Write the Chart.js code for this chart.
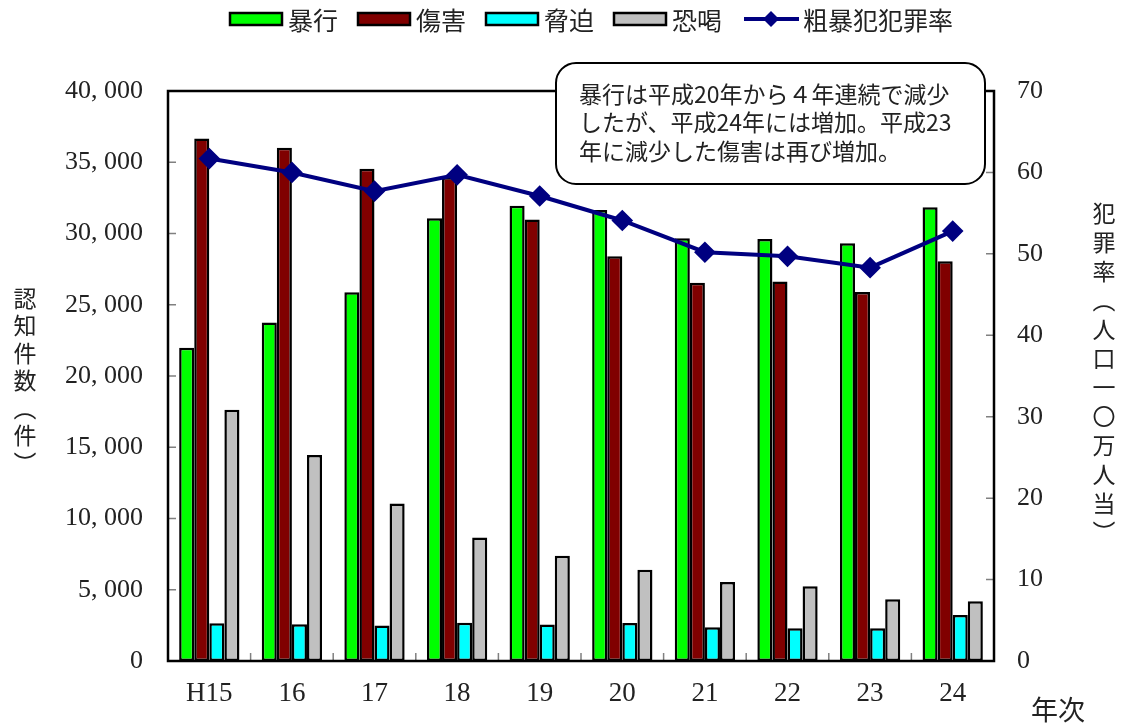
<!DOCTYPE html>
<html>
<head>
<meta charset="utf-8">
<script src="https://cdn.jsdelivr.net/npm/chart.js@4"></script>
<style>
  html, body { margin: 0; background: #fff; }
</style>
</head>
<body>
<canvas id="chart" width="1127" height="724"></canvas>
<script>
// data
const years = ['H15', '16', '17', '18', '19', '20', '21', '22', '23', '24'];
const assault = [21990, 23750, 25870, 31070, 31950, 31650, 29660, 29610, 29310, 31840];
const injury = [36660, 36020, 34540, 33950, 30990, 28400, 26550, 26640, 25900, 28050];
const intimidation = [2650, 2580, 2500, 2680, 2570, 2670, 2360, 2290, 2290, 3230];
const extortion = [17630, 14460, 11050, 8670, 7390, 6410, 5540, 5240, 4330, 4190];
const crimeRate = [61.7, 60.0, 57.7, 59.7, 57.1, 54.1, 50.2, 49.7, 48.3, 52.8];

const countTicks = [0, 5000, 10000, 15000, 20000, 25000, 30000, 35000, 40000];
const rateTicks = [0, 10, 20, 30, 40, 50, 60, 70];

const legendItems = [
    { label: '暴行', color: '#00ff00', type: 'box' },
    { label: '傷害', color: '#800000', type: 'box' },
    { label: '脅迫', color: '#00ffff', type: 'box' },
    { label: '恐喝', color: '#c0c0c0', type: 'box' },
    { label: '粗暴犯犯罪率', color: '#000080', type: 'line' }
];
const leftTitle = ['認', '知', '件', '数', '︵', '件', '︶'];
const rightTitle = ['犯', '罪', '率', '︵', '人', '口', '一', '〇', '万', '人', '当', '︶'];
const noteLines = [
    '暴行は平成20年から４年連続で減少',
    'したが、平成24年には増加。平成23',
    '年に減少した傷害は再び増加。'
];

const jp = "'Noto Sans CJK JP', sans-serif";
const serif = "'Liberation Serif', 'DejaVu Serif', serif";

function fmt(v) {
    return v.toLocaleString('en-US').replace(',', ', ');
}

function bar(label, data, color) {
    return {
        type: 'bar',
        label: label,
        data: data,
        backgroundColor: color,
        borderColor: '#000',
        borderWidth: 2.5,
        borderSkipped: false,
        yAxisID: 'y',
        order: 2
    };
}

const extras = {
    id: 'extras',
    afterDatasetsDraw(chart) {
        const ctx = chart.ctx;
        const a = chart.chartArea;
        const x = chart.scales.x, y = chart.scales.y, y2 = chart.scales.y2;
        ctx.save();
        ctx.strokeStyle = '#808080';
        ctx.lineWidth = 1.5;
        ctx.beginPath();
        countTicks.forEach(v => {
            const p = y.getPixelForValue(v);
            ctx.moveTo(a.left, p); ctx.lineTo(a.left + 8, p);
        });
        rateTicks.forEach(v => {
            const p = y2.getPixelForValue(v);
            ctx.moveTo(a.right - 8, p); ctx.lineTo(a.right, p);
        });
        for (let i = 1; i < years.length; i++) {
            const p = (x.getPixelForValue(i - 1) + x.getPixelForValue(i)) / 2;
            ctx.moveTo(p, a.bottom); ctx.lineTo(p, a.bottom - 8);
        }
        ctx.stroke();
        ctx.strokeStyle = '#000';
        ctx.lineWidth = 2.5;
        ctx.strokeRect(a.left, a.top, a.right - a.left, a.bottom - a.top);
        ctx.restore();
    },
    afterDraw(chart) {
        const ctx = chart.ctx;
        ctx.save();

        // legend
        ctx.font = '25px ' + jp;
        ctx.textBaseline = 'middle';
        ctx.fillStyle = '#000';
        let lx = 230;
        const ly = 19;
        legendItems.forEach(item => {
            if (item.type === 'box') {
                ctx.fillStyle = item.color;
                ctx.fillRect(lx, ly - 6, 52, 12);
                ctx.strokeStyle = '#000';
                ctx.lineWidth = 2.5;
                ctx.strokeRect(lx, ly - 6, 52, 12);
                lx += 58;
            } else {
                ctx.strokeStyle = item.color;
                ctx.lineWidth = 4;
                ctx.beginPath();
                ctx.moveTo(lx + 2, ly); ctx.lineTo(lx + 57, ly);
                ctx.stroke();
                ctx.fillStyle = item.color;
                ctx.beginPath();
                const cx = lx + 29;
                ctx.moveTo(cx, ly - 8); ctx.lineTo(cx + 8, ly);
                ctx.lineTo(cx, ly + 8); ctx.lineTo(cx - 8, ly);
                ctx.closePath();
                ctx.fill();
                lx += 61;
            }
            ctx.fillStyle = '#222';
            ctx.fillText(item.label, lx, ly + 1);
            lx += ctx.measureText(item.label).width + 20;
        });

        // axis titles
        ctx.font = '23px ' + jp;
        ctx.textAlign = 'center';
        ctx.fillStyle = '#222';
        leftTitle.forEach((ch, i) => ctx.fillText(ch, 25, 298 + i * 27.5));
        rightTitle.forEach((ch, i) => ctx.fillText(ch, 1104, 213 + i * 29));
        ctx.font = '27px ' + jp;
        ctx.fillText('年次', 1058, 710);

        // note box
        const bx = 556, by = 63, bw = 429, bh = 121, r = 20;
        ctx.beginPath();
        ctx.moveTo(bx + r, by);
        ctx.lineTo(bx + bw - r, by);
        ctx.arcTo(bx + bw, by, bx + bw, by + r, r);
        ctx.lineTo(bx + bw, by + bh - r);
        ctx.arcTo(bx + bw, by + bh, bx + bw - r, by + bh, r);
        ctx.lineTo(bx + r, by + bh);
        ctx.arcTo(bx, by + bh, bx, by + bh - r, r);
        ctx.lineTo(bx, by + r);
        ctx.arcTo(bx, by, bx + r, by, r);
        ctx.closePath();
        ctx.fillStyle = '#fff';
        ctx.fill();
        ctx.strokeStyle = '#000';
        ctx.lineWidth = 2;
        ctx.stroke();
        ctx.font = '23px ' + jp;
        ctx.textAlign = 'left';
        ctx.fillStyle = '#222';
        noteLines.forEach((t, i) => ctx.fillText(t, 579, 94 + i * 28.5));

        ctx.restore();
    }
};

Chart.defaults.font.family = serif;
Chart.defaults.color = '#222';

const chart = new Chart(document.getElementById('chart'), {
    data: {
        labels: years,
        datasets: [
            {
                type: 'line',
                label: '粗暴犯犯罪率',
                data: crimeRate,
                yAxisID: 'y2',
                borderColor: '#000080',
                backgroundColor: '#000080',
                borderWidth: 4,
                pointStyle: 'rectRot',
                pointRadius: 8,
                pointBackgroundColor: '#000080',
                pointBorderColor: '#000080',
                tension: 0,
                order: 1
            },
            bar('暴行', assault, '#00ff00'),
            bar('傷害', injury, '#800000'),
            bar('脅迫', intimidation, '#00ffff'),
            bar('恐喝', extortion, '#c0c0c0')
        ]
    },
    options: {
        responsive: false,
        animation: false,
        layout: { padding: { top: 91, left: 0, right: 0, bottom: 0 } },
        datasets: {
            bar: { categoryPercentage: 0.73, barPercentage: 1.0 }
        },
        plugins: {
            legend: { display: false },
            tooltip: { enabled: false }
        },
        scales: {
            x: {
                offset: true,
                grid: { display: false, drawTicks: false },
                border: { display: false },
                ticks: { font: { size: 27 }, padding: 17, color: '#222' },
                afterFit: s => { s.height = 63; }
            },
            y: {
                position: 'left',
                min: 0,
                max: 40000,
                grid: { display: false, drawTicks: false },
                border: { display: false },
                ticks: {
                    stepSize: 5000,
                    padding: 25,
                    font: { size: 26 },
                    color: '#222',
                    callback: v => fmt(v)
                },
                afterFit: s => { s.width = 168; }
            },
            y2: {
                position: 'right',
                min: 0,
                max: 70,
                grid: { display: false, drawTicks: false },
                border: { display: false },
                ticks: { stepSize: 10, padding: 23, font: { size: 26 }, color: '#222' },
                afterFit: s => { s.width = 133; }
            }
        }
    },
    plugins: [extras]
});
</script>
</body>
</html>
